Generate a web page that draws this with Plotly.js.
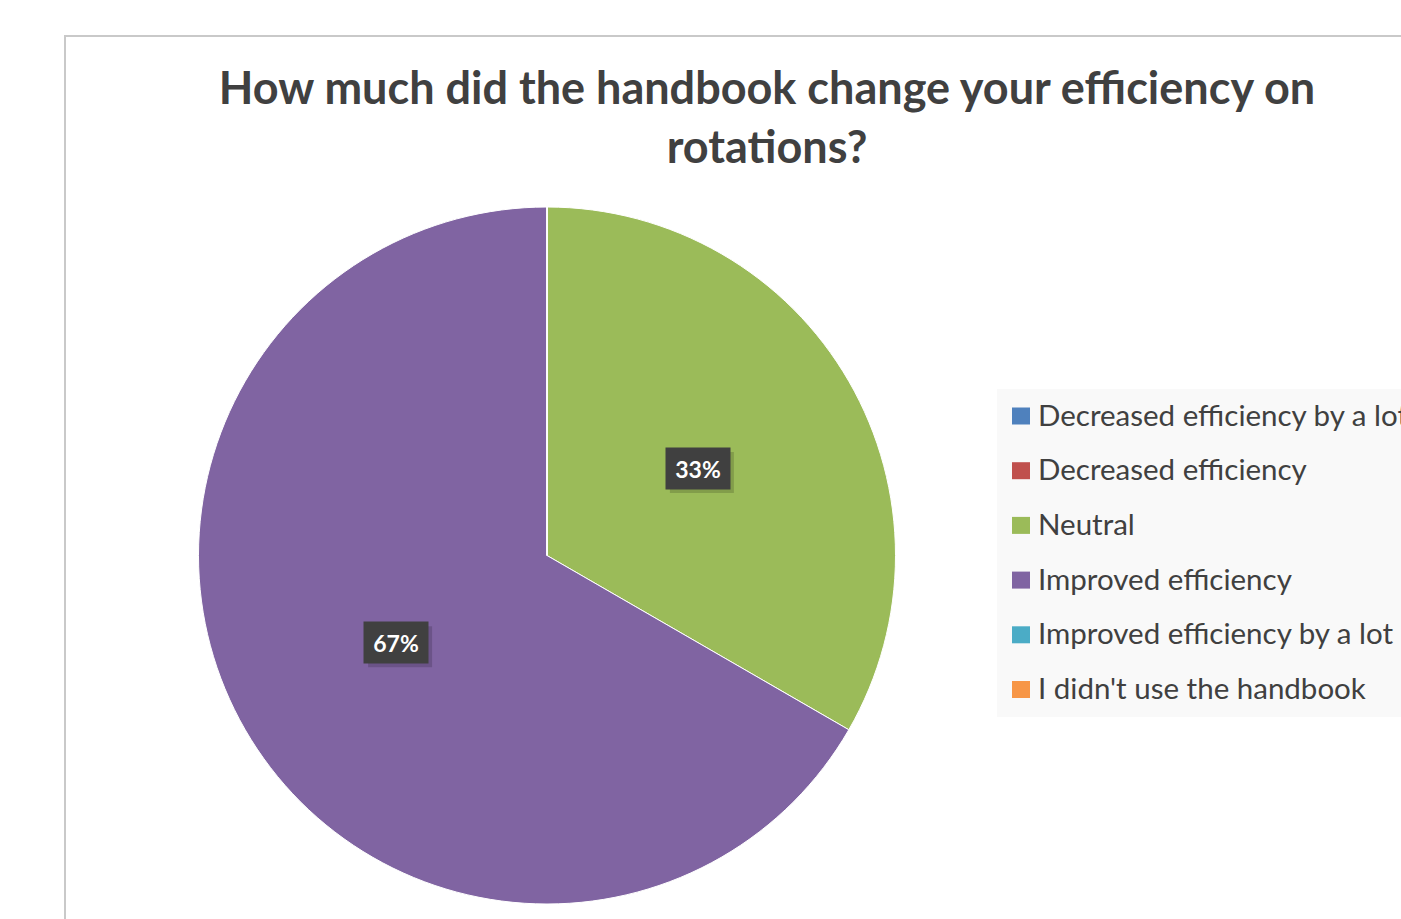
<!DOCTYPE html>
<html>
<head>
<meta charset="utf-8">
<script src="https://cdn.plot.ly/plotly-3.0.1.min.js"></script>
<style>
html,body{margin:0;padding:0;overflow:hidden;background:#fff;}
#chart{width:1401px;height:919px;}
</style>
</head>
<body>
<div id="chart"></div>
<script>
var categories = ["Decreased efficiency by a lot", "Decreased efficiency", "Neutral", "Improved efficiency", "Improved efficiency by a lot", "I didn't use the handbook"];
var responses = [0, 0, 1, 2, 0, 0];
var sliceColors = ["#4f81bd", "#c0504d", "#9bbb59", "#8064a2", "#4bacc6", "#f79646"];
var chartTitle = "How much did the handbook change your efficiency on<br>rotations?";

var W = 1401, H = 919;
function px(x){ return x / W; }
function py(y){ return 1 - y / H; }

// pie geometry (pixels)
var cx = 547, cy = 555.5, R = 348.5;

var shapes = [];
var annotations = [];

// chart border
shapes.push({type:'rect', xref:'paper', yref:'paper', x0:px(65), x1:px(1520), y0:py(36), y1:py(1000),
  line:{color:'#c9c9c9', width:2}, fillcolor:'rgba(0,0,0,0)', layer:'below'});

// legend background
shapes.push({type:'rect', xref:'paper', yref:'paper', x0:px(997), x1:px(1460), y0:py(389), y1:py(717),
  line:{width:0}, fillcolor:'#f9f9f9', layer:'below'});

var legTop = 416, legStep = 54.7;
categories.forEach(function(c, i){
  var yc = legTop + i * legStep;
  shapes.push({type:'rect', xref:'paper', yref:'paper', x0:px(1012), x1:px(1030), y0:py(yc-8.5), y1:py(yc+8.5),
    line:{width:0}, fillcolor:sliceColors[i]});
  annotations.push({xref:'paper', yref:'paper', x:px(1036), y:py(yc-2), xanchor:'left', yanchor:'middle',
    text:c, showarrow:false, font:{family:'Lato, "Open Sans", sans-serif', size:29.5, color:'#404040'}});
});

// data labels computed from values
var total = responses.reduce(function(a,b){return a+b;}, 0);
var cum = 0;
var boxW = 64, boxH = 41;
responses.forEach(function(v, i){
  if (v <= 0) return;
  var mid = (cum + v/2) / total * 2 * Math.PI;
  cum += v;
  var lx = cx + 0.5 * R * Math.sin(mid);
  var ly = cy - 0.5 * R * Math.cos(mid);
  var txt = Math.round(v / total * 100) + '%';
  // shadow
  shapes.push({type:'rect', xref:'paper', yref:'paper',
    x0:px(lx - boxW/2 + 4), x1:px(lx + boxW/2 + 4), y0:py(ly + boxH/2 + 4), y1:py(ly - boxH/2 + 4),
    line:{width:0}, fillcolor:'rgba(0,0,0,0.16)', layer:'above'});
  annotations.push({xref:'paper', yref:'paper', x:px(lx), y:py(ly), xanchor:'center', yanchor:'middle',
    text:'<b>'+txt+'</b>', showarrow:false, bgcolor:'#404040', borderpad:0, width:boxW, height:boxH,
    font:{family:'Lato, sans-serif', size:23, color:'#ffffff'}});
});

var trace = {
  type:'pie',
  labels:categories,
  values:responses,
  sort:false,
  direction:'clockwise',
  rotation:0,
  marker:{colors:sliceColors, line:{color:'#ffffff', width:1}},
  textinfo:'none',
  hoverinfo:'label+percent',
  showlegend:false,
  domain:{x:[px(cx-R), px(cx+R)], y:[py(cy+R), py(cy-R)]}
};

var layout = {
  width:W, height:H,
  margin:{l:0, r:0, t:0, b:0},
  paper_bgcolor:'#ffffff',
  showlegend:false,
  title:{text:'<b>'+chartTitle+'</b>', x:px(767), xanchor:'center', y:py(104), yanchor:'middle',
    font:{family:'Lato, "Open Sans", sans-serif', size:45, color:'#404040'}},
  shapes:shapes,
  annotations:annotations
};

Plotly.newPlot('chart', [trace], layout, {displayModeBar:false, staticPlot:true});
</script>
</body>
</html>
